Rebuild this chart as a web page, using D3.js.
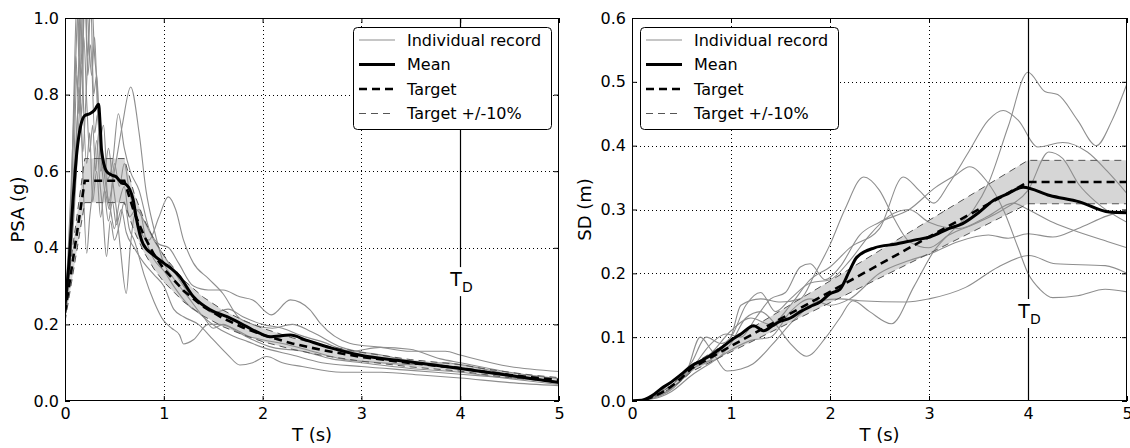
<!DOCTYPE html>
<html>
<head>
<meta charset="utf-8">
<script src="https://cdn.jsdelivr.net/npm/d3@7"></script>
<style>
  body { margin: 0; background: #fff; }
  svg { display: block; font-family: "DejaVu Sans", sans-serif; }
</style>
</head>
<body>
<div id="chart"></div>
<script>
// ---------- data ----------
const xTicks = [0, 1, 2, 3, 4, 5];
const psaTicks = [0, 0.2, 0.4, 0.6, 0.8, 1.0];
const sdTicks = [0, 0.1, 0.2, 0.3, 0.4, 0.5, 0.6];
const T_D = 4;
const legendLabels = ['Individual record', 'Mean', 'Target', 'Target +/-10%'];

// target spectrum, PSA (g)
const psaTargetT = [0, 0.2, 0.6, 0.7, 0.8, 0.9, 1.0, 1.2, 1.4, 1.6, 1.8, 2.0, 2.3, 2.6, 3.0, 3.5, 4.0, 4.25, 4.5, 4.75, 5.0];
const psaTarget = [0.23, 0.575, 0.575, 0.493, 0.431, 0.383, 0.345, 0.288, 0.246, 0.216, 0.192, 0.173, 0.150, 0.133, 0.115, 0.099, 0.086, 0.076, 0.068, 0.061, 0.055];
const psaLower = [0.207, 0.518, 0.518, 0.444, 0.388, 0.345, 0.311, 0.259, 0.222, 0.194, 0.173, 0.155, 0.135, 0.119, 0.104, 0.089, 0.078, 0.069, 0.061, 0.055, 0.050];
const psaUpper = [0.253, 0.633, 0.633, 0.542, 0.474, 0.422, 0.380, 0.316, 0.271, 0.237, 0.211, 0.190, 0.165, 0.146, 0.127, 0.108, 0.095, 0.084, 0.075, 0.067, 0.061];

// target spectrum, SD (m)
const sdTargetT = [0, 0.1, 0.2, 0.3, 0.4, 0.5, 0.6, 1, 2, 3, 4, 5];
const sdTarget = [0, 0.001, 0.006, 0.013, 0.023, 0.036, 0.051, 0.086, 0.171, 0.257, 0.343, 0.343];
const sdLower = [0, 0.001, 0.005, 0.012, 0.021, 0.032, 0.046, 0.077, 0.154, 0.231, 0.309, 0.309];
const sdUpper = [0, 0.001, 0.006, 0.014, 0.025, 0.040, 0.056, 0.095, 0.188, 0.283, 0.377, 0.377];

// mean of the records  [T, value]
const psaMean = [[0,0.25],[0.04,0.36],[0.08,0.52],[0.12,0.65],[0.16,0.72],[0.2,0.745],[0.25,0.75],[0.3,0.76],[0.34,0.775],[0.355,0.725],[0.37,0.655],[0.42,0.6],[0.47,0.59],[0.52,0.585],[0.57,0.57],[0.62,0.565],[0.69,0.525],[0.72,0.48],[0.79,0.41],[0.9,0.38],[1.0,0.36],[1.08,0.345],[1.16,0.325],[1.3,0.272],[1.47,0.238],[1.64,0.22],[1.84,0.194],[1.97,0.177],[2.07,0.168],[2.28,0.172],[2.44,0.159],[2.7,0.138],[2.98,0.12],[3.46,0.103],[4.0,0.085],[4.47,0.068],[5.0,0.048]];
const sdMean = [[0,0],[0.1,0.001],[0.2,0.008],[0.3,0.02],[0.4,0.03],[0.5,0.042],[0.6,0.055],[0.7,0.063],[0.8,0.072],[0.9,0.083],[1.0,0.095],[1.1,0.105],[1.23,0.118],[1.33,0.11],[1.42,0.118],[1.5,0.125],[1.6,0.13],[1.7,0.14],[1.8,0.148],[1.9,0.155],[2.0,0.168],[2.1,0.175],[2.2,0.205],[2.27,0.225],[2.45,0.24],[2.67,0.246],[2.85,0.252],[3.01,0.257],[3.2,0.27],[3.34,0.278],[3.5,0.295],[3.65,0.314],[3.8,0.325],[3.95,0.335],[4.22,0.322],[4.52,0.312],[4.82,0.296],[5.0,0.295]];

// individual records, PSA (g)
const psaRec1 = [[0,0.26],[0.03,0.35],[0.06,0.5],[0.09,0.72],[0.11,0.9],[0.13,0.8],[0.15,1.02],[0.17,0.88],[0.2,1.08],[0.23,0.85],[0.26,0.93],[0.3,0.7],[0.33,0.75],[0.36,0.6],[0.4,0.62],[0.44,0.52],[0.5,0.6],[0.58,0.72],[0.665,0.82],[0.75,0.7],[0.82,0.55],[0.9,0.45],[1.0,0.36],[1.1,0.32],[1.25,0.27],[1.4,0.22],[1.55,0.19],[1.7,0.17],[1.85,0.155],[2.0,0.14],[2.3,0.12],[2.6,0.1],[3.0,0.09],[3.5,0.08],[4.0,0.07],[4.5,0.06],[5.0,0.05]];
const psaRec2 = [[0,0.22],[0.03,0.3],[0.06,0.45],[0.09,0.62],[0.12,0.85],[0.14,0.75],[0.17,0.98],[0.2,1.1],[0.23,0.9],[0.26,1.05],[0.29,0.8],[0.32,0.85],[0.35,0.68],[0.39,0.72],[0.43,0.58],[0.48,0.62],[0.54,0.75],[0.6,0.66],[0.66,0.6],[0.75,0.55],[0.85,0.45],[0.95,0.41],[1.05,0.4],[1.15,0.36],[1.3,0.3],[1.45,0.29],[1.6,0.29],[1.77,0.272],[1.9,0.264],[2.09,0.225],[2.28,0.264],[2.48,0.238],[2.58,0.204],[2.88,0.151],[3.2,0.14],[3.5,0.13],[3.85,0.13],[4.0,0.12],[4.5,0.09],[5.0,0.077]];
const psaRec3 = [[0,0.24],[0.03,0.33],[0.06,0.5],[0.09,0.8],[0.12,1.05],[0.14,0.9],[0.16,1.08],[0.19,0.75],[0.22,0.62],[0.25,0.7],[0.28,0.52],[0.32,0.6],[0.36,0.48],[0.4,0.55],[0.45,0.5],[0.5,0.62],[0.55,0.56],[0.6,0.62],[0.65,0.55],[0.75,0.45],[0.85,0.42],[0.95,0.48],[1.045,0.533],[1.12,0.5],[1.2,0.42],[1.3,0.36],[1.45,0.32],[1.6,0.28],[1.75,0.22],[1.9,0.2],[2.1,0.19],[2.3,0.2],[2.5,0.18],[2.8,0.14],[3.2,0.12],[3.6,0.1],[4.0,0.085],[4.5,0.065],[5.0,0.05]];
const psaRec4 = [[0,0.23],[0.03,0.28],[0.06,0.4],[0.09,0.55],[0.12,0.72],[0.15,0.8],[0.18,0.65],[0.21,0.78],[0.24,0.95],[0.27,1.05],[0.3,0.9],[0.33,0.82],[0.36,0.65],[0.4,0.55],[0.44,0.47],[0.48,0.52],[0.52,0.46],[0.57,0.5],[0.62,0.44],[0.7,0.4],[0.8,0.36],[0.9,0.33],[1.0,0.3],[1.1,0.24],[1.2,0.22],[1.35,0.2],[1.5,0.16],[1.65,0.12],[1.77,0.094],[1.9,0.1],[2.04,0.116],[2.2,0.1],[2.4,0.09],[2.8,0.075],[3.2,0.075],[3.6,0.068],[4.0,0.06],[4.5,0.048],[5.0,0.04]];
const psaRec5 = [[0,0.27],[0.03,0.38],[0.06,0.55],[0.09,0.75],[0.11,0.9],[0.13,1.02],[0.15,0.85],[0.18,0.6],[0.22,0.386],[0.25,0.48],[0.28,0.55],[0.32,0.68],[0.35,0.58],[0.38,0.5],[0.42,0.377],[0.46,0.47],[0.5,0.42],[0.55,0.46],[0.6,0.52],[0.65,0.45],[0.7,0.42],[0.8,0.33],[0.9,0.26],[0.995,0.211],[1.08,0.19],[1.16,0.172],[1.2,0.149],[1.3,0.16],[1.45,0.2],[1.56,0.2],[1.7,0.19],[1.85,0.17],[2.0,0.16],[2.2,0.15],[2.5,0.13],[2.8,0.11],[3.2,0.1],[3.5,0.095],[3.85,0.1],[4.0,0.095],[4.5,0.07],[5.0,0.05]];
const psaRec6 = [[0,0.25],[0.03,0.3],[0.06,0.38],[0.09,0.48],[0.12,0.62],[0.15,0.78],[0.18,0.92],[0.21,1.1],[0.24,0.95],[0.27,0.85],[0.3,0.95],[0.33,0.75],[0.36,0.68],[0.4,0.6],[0.44,0.66],[0.48,0.58],[0.52,0.5],[0.56,0.4],[0.62,0.281],[0.66,0.4],[0.7,0.48],[0.75,0.5],[0.82,0.42],[0.9,0.37],[1.0,0.34],[1.1,0.3],[1.25,0.25],[1.4,0.22],[1.5,0.19],[1.6,0.2],[1.75,0.18],[1.9,0.16],[2.1,0.14],[2.4,0.13],[2.7,0.11],[3.0,0.1],[3.5,0.085],[4.0,0.075],[4.5,0.058],[5.0,0.043]];
const psaRec7 = [[0,0.24],[0.03,0.32],[0.06,0.45],[0.09,0.55],[0.12,0.7],[0.14,0.82],[0.17,0.75],[0.19,0.95],[0.22,0.78],[0.25,0.65],[0.28,0.72],[0.31,0.6],[0.34,0.7],[0.37,0.65],[0.42,0.55],[0.46,0.5],[0.5,0.45],[0.55,0.52],[0.6,0.56],[0.65,0.48],[0.72,0.5],[0.8,0.47],[0.9,0.42],[1.0,0.38],[1.1,0.34],[1.2,0.3],[1.35,0.26],[1.5,0.23],[1.65,0.24],[1.8,0.22],[2.0,0.2],[2.2,0.19],[2.4,0.17],[2.6,0.155],[2.9,0.13],[3.19,0.14],[3.49,0.135],[3.8,0.11],[4.0,0.1],[4.5,0.075],[5.0,0.058]];

// individual records, SD (m)
const sdRec1 = [[0,0],[0.2,0.004],[0.4,0.02],[0.55,0.04],[0.7,0.06],[0.85,0.065],[1.0,0.09],[1.15,0.13],[1.3,0.14],[1.45,0.12],[1.6,0.09],[1.76,0.07],[1.96,0.1],[2.1,0.13],[2.23,0.157],[2.4,0.14],[2.62,0.121],[2.85,0.18],[3.05,0.235],[3.27,0.272],[3.45,0.3],[3.6,0.341],[3.8,0.43],[4.0,0.515],[4.17,0.485],[4.3,0.48],[4.5,0.44],[4.69,0.40],[4.85,0.44],[5.0,0.497]];
const sdRec2 = [[0,0],[0.2,0.006],[0.4,0.025],[0.6,0.05],[0.8,0.065],[0.9,0.08],[1.0,0.1],[1.1,0.15],[1.3,0.16],[1.5,0.155],[1.7,0.16],[1.85,0.2],[2.0,0.245],[2.15,0.3],[2.34,0.351],[2.5,0.33],[2.64,0.288],[2.8,0.25],[3.0,0.24],[3.2,0.26],[3.5,0.28],[3.75,0.3],[4.0,0.33],[4.21,0.39],[4.35,0.38],[4.51,0.34],[4.7,0.31],[5.0,0.28]];
const sdRec3 = [[0,0],[0.2,0.005],[0.4,0.02],[0.55,0.045],[0.69,0.1],[0.8,0.08],[0.96,0.047],[1.1,0.05],[1.22,0.058],[1.42,0.089],[1.63,0.126],[1.9,0.157],[2.1,0.16],[2.3,0.157],[2.77,0.155],[3.0,0.16],[3.37,0.178],[3.7,0.21],[4.01,0.228],[4.28,0.215],[4.78,0.212],[5.0,0.2]];
const sdRec4 = [[0,0],[0.2,0.005],[0.4,0.03],[0.6,0.055],[0.8,0.075],[1.0,0.11],[1.2,0.13],[1.4,0.12],[1.6,0.15],[1.8,0.19],[2.0,0.21],[2.2,0.24],[2.5,0.27],[2.74,0.351],[2.9,0.33],[3.05,0.31],[3.2,0.34],[3.4,0.39],[3.6,0.44],[3.75,0.455],[3.9,0.44],[4.1,0.398],[4.35,0.405],[4.6,0.39],[4.8,0.36],[5.0,0.325]];
const sdRec5 = [[0,0],[0.2,0.004],[0.4,0.018],[0.6,0.05],[0.8,0.09],[0.95,0.105],[1.1,0.1],[1.25,0.13],[1.4,0.16],[1.55,0.17],[1.7,0.21],[1.8,0.215],[1.95,0.19],[2.1,0.21],[2.3,0.26],[2.5,0.28],[2.8,0.30],[3.07,0.335],[3.27,0.354],[3.41,0.367],[3.58,0.345],[3.75,0.3],[3.9,0.24],[4.0,0.2],[4.12,0.175],[4.25,0.162],[4.5,0.165],[4.78,0.175],[5.0,0.171]];
const sdRec6 = [[0,0],[0.2,0.003],[0.4,0.015],[0.6,0.04],[0.8,0.06],[1.0,0.08],[1.2,0.095],[1.4,0.1],[1.6,0.14],[1.8,0.16],[2.0,0.15],[2.2,0.16],[2.5,0.2],[2.8,0.22],[3.0,0.23],[3.3,0.25],[3.6,0.26],[3.8,0.255],[4.0,0.262],[4.25,0.257],[4.5,0.27],[4.8,0.29],[5.0,0.299]];
const sdRec7 = [[0,0],[0.2,0.006],[0.4,0.03],[0.6,0.06],[0.75,0.1],[0.9,0.09],[1.0,0.1],[1.15,0.15],[1.3,0.17],[1.45,0.14],[1.6,0.16],[1.8,0.185],[2.0,0.19],[2.2,0.22],[2.4,0.26],[2.6,0.29],[2.8,0.3],[3.0,0.28],[3.3,0.27],[3.6,0.29],[3.85,0.31],[4.0,0.3],[4.25,0.28],[4.5,0.265],[4.8,0.25],[5.0,0.24]];

const psaRecords = [psaRec1, psaRec2, psaRec3, psaRec4, psaRec5, psaRec6, psaRec7];
const sdRecords = [sdRec1, sdRec2, sdRec3, sdRec4, sdRec5, sdRec6, sdRec7];

// ---------- drawing ----------
const width = 1130, height = 448;
const svg = d3.select('#chart').append('svg')
  .attr('width', width)
  .attr('height', height);

const recColor = '#8e8e8e';
const bandColor = '#d6d6d6';

function drawPanel(p) {
  const x = d3.scaleLinear().domain([0, 5]).range([p.left, p.right]);
  const y = d3.scaleLinear().domain([0, p.yMax]).range([p.bottom, p.top]);
  const g = svg.append('g');

  g.append('clipPath').attr('id', p.id)
    .append('rect')
    .attr('x', p.left).attr('y', p.top)
    .attr('width', p.right - p.left).attr('height', p.bottom - p.top);

  // dotted grid
  g.selectAll('.gx').data(xTicks.slice(1, -1)).join('line')
    .attr('x1', d => Math.round(x(d)) + 0.5).attr('x2', d => Math.round(x(d)) + 0.5)
    .attr('y1', p.top).attr('y2', p.bottom)
    .style('stroke', '#000').style('stroke-width', 1).style('stroke-dasharray', '1,3');
  g.selectAll('.gy').data(p.yTicks.slice(1, -1)).join('line')
    .attr('y1', d => Math.round(y(d)) + 0.5).attr('y2', d => Math.round(y(d)) + 0.5)
    .attr('x1', p.left).attr('x2', p.right)
    .style('stroke', '#000').style('stroke-width', 1).style('stroke-dasharray', '1,3');

  const plot = g.append('g').attr('clip-path', `url(#${p.id})`);

  // +/-10% band
  const band = p.targetT.map((t, i) => ({t, lo: p.lower[i], hi: p.upper[i]}));
  plot.append('path')
    .datum(band)
    .attr('d', d3.area().x(d => x(d.t)).y0(d => y(d.lo)).y1(d => y(d.hi)))
    .style('fill', bandColor);

  // records
  const recLine = d3.line().x(d => x(d[0])).y(d => y(d[1])).curve(d3.curveMonotoneX);
  p.records.forEach(r => {
    plot.append('path').attr('d', recLine(r))
      .style('fill', 'none').style('stroke', recColor).style('stroke-width', 1.1);
  });

  // band edges
  const tLine = d3.line().x(d => x(d[0])).y(d => y(d[1]));
  [p.lower, p.upper].forEach(arr => {
    plot.append('path').attr('d', tLine(p.targetT.map((t, i) => [t, arr[i]])))
      .style('fill', 'none').style('stroke', '#555').style('stroke-width', 1)
      .style('stroke-dasharray', '7,5');
  });

  // target
  plot.append('path').attr('d', tLine(p.targetT.map((t, i) => [t, p.target[i]])))
    .style('fill', 'none').style('stroke', '#000').style('stroke-width', 2.6)
    .style('stroke-dasharray', '8,5');

  // mean
  plot.append('path').attr('d', recLine(p.mean))
    .style('fill', 'none').style('stroke', '#000').style('stroke-width', 3);

  // T_D marker
  const xd = Math.round(x(T_D)) + 0.5;
  g.append('line').attr('x1', xd).attr('x2', xd).attr('y1', p.top).attr('y2', p.bottom)
    .style('stroke', '#000').style('stroke-width', 1.2);
  const td = g.append('text')
    .attr('x', xd + 1).attr('y', y(p.tdLabel))
    .attr('text-anchor', 'middle')
    .style('font-size', '19px');
  td.append('tspan').text('T');
  td.append('tspan').text('D').attr('dy', 6).style('font-size', '14px');
  const bb = td.node().getBBox();
  g.insert('rect', function () { return td.node(); })
    .attr('x', bb.x - 1).attr('y', bb.y - 1)
    .attr('width', bb.width + 2).attr('height', bb.height + 2)
    .style('fill', '#fff');

  // axes with inward ticks on all four sides
  const fmtY = d3.format('.1f');
  const styleAxis = sel => {
    sel.select('.domain').remove();
    sel.selectAll('.tick line').style('stroke', '#000');
    sel.selectAll('text').style('font-size', '16px').style('fill', '#000')
      .style('font-family', '"DejaVu Sans", sans-serif');
  };
  g.append('g').attr('transform', `translate(0,${p.bottom})`)
    .call(d3.axisBottom(x).tickValues(xTicks).tickFormat(d3.format('d')).tickSize(-5).tickPadding(7))
    .call(styleAxis);
  g.append('g').attr('transform', `translate(0,${p.top})`)
    .call(d3.axisTop(x).tickValues(xTicks).tickFormat('').tickSize(-5))
    .call(styleAxis);
  g.append('g').attr('transform', `translate(${p.left},0)`)
    .call(d3.axisLeft(y).tickValues(p.yTicks).tickFormat(fmtY).tickSize(-5).tickPadding(6))
    .call(styleAxis);
  g.append('g').attr('transform', `translate(${p.right},0)`)
    .call(d3.axisRight(y).tickValues(p.yTicks).tickFormat('').tickSize(-5))
    .call(styleAxis);

  // frame
  g.append('rect')
    .attr('x', p.left + 0.5).attr('y', p.top + 0.5)
    .attr('width', p.right - p.left - 1).attr('height', p.bottom - p.top - 1)
    .style('fill', 'none').style('stroke', '#000').style('stroke-width', 1);

  // axis labels
  g.append('text').text('T (s)')
    .attr('x', (p.left + p.right) / 2).attr('y', 441)
    .attr('text-anchor', 'middle').style('font-size', '18px');
  g.append('text').text(p.yLabel)
    .attr('transform', `translate(${p.yLabelX},${(p.top + p.bottom) / 2}) rotate(-90)`)
    .attr('text-anchor', 'middle').style('font-size', '18px');

  // legend
  const lg = g.append('g').attr('transform', `translate(${p.legendX},27)`);
  lg.append('rect').attr('x', 0.5).attr('y', 0.5).attr('width', 198).attr('height', 102)
    .attr('rx', 4).style('fill', '#fff').style('stroke', '#000').style('stroke-width', 1);
  const legStyles = [
    {stroke: recColor, w: 1.1, dash: null},
    {stroke: '#000', w: 3, dash: null},
    {stroke: '#000', w: 2.6, dash: '8,5'},
    {stroke: '#555', w: 1, dash: '7,5'}
  ];
  legendLabels.forEach((lab, i) => {
    const ly = 13 + i * 24.5;
    lg.append('line').attr('x1', 6).attr('x2', 42).attr('y1', ly).attr('y2', ly)
      .style('stroke', legStyles[i].stroke).style('stroke-width', legStyles[i].w)
      .style('stroke-dasharray', legStyles[i].dash);
    lg.append('text').text(lab).attr('x', 54).attr('y', ly).attr('dy', '0.35em')
      .style('font-size', '16px');
  });
}

drawPanel({
  id: 'clipPsa', left: 65, right: 559, top: 18, bottom: 401,
  yMax: 1.0, yTicks: psaTicks, yLabel: 'PSA (g)', yLabelX: 24,
  targetT: psaTargetT, target: psaTarget, lower: psaLower, upper: psaUpper,
  records: psaRecords, mean: psaMean, tdLabel: 0.30, legendX: 353
});

drawPanel({
  id: 'clipSd', left: 632, right: 1127, top: 18, bottom: 401,
  yMax: 0.6, yTicks: sdTicks, yLabel: 'SD (m)', yLabelX: 591,
  targetT: sdTargetT, target: sdTarget, lower: sdLower, upper: sdUpper,
  records: sdRecords, mean: sdMean, tdLabel: 0.13, legendX: 640
});
</script>
</body>
</html>
